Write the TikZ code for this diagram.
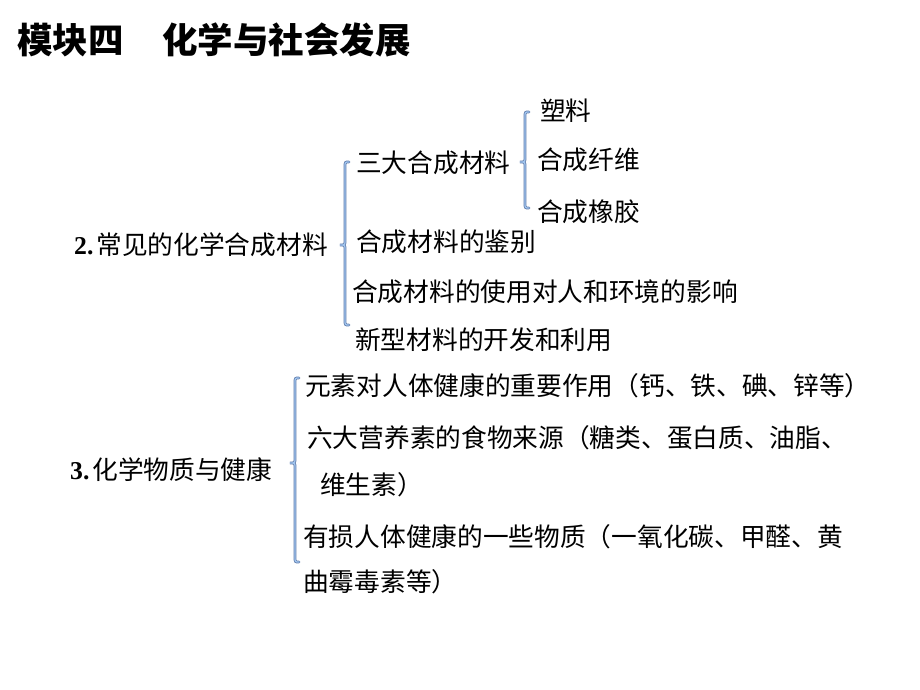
\documentclass[tikz,border=0pt]{standalone}
\usepackage{fontspec}
\setmainfont{Liberation Serif}
\newfontfamily\cjk{Noto Sans CJK SC}
\definecolor{braceout}{RGB}{96,124,170}
\definecolor{bracein}{RGB}{160,196,238}
\newcommand{\mybrace}[4]{%
  \foreach \w/\c in {2.8pt/braceout,1.3pt/bracein}{
  \draw[line width=\w,\c,line cap=round]
    (#1+4,#2) .. controls (#1,#2) .. (#1,#2+5) -- (#1,#3-5)
    .. controls (#1,#3) .. (#1-5,#3) .. controls (#1,#3) .. (#1,#3+5)
    -- (#1,#4-5) .. controls (#1,#4) .. (#1+4,#4);}
}
\begin{document}
\begin{tikzpicture}[x=1pt,y=-1pt,
  every node/.style={inner sep=0pt,anchor=west},
  body/.style={font=\fontsize{25.7}{26}\cjk},
  num/.style={font=\fontsize{25.7}{26}\selectfont},
  ttl/.style={font=\fontsize{35.5}{36}\cjk\bfseries}]
\useasboundingbox[fill=white] (0,0) rectangle (920,690);
% title
\node[ttl] (t1) at (17,40) {模块四};
\node[ttl] (t2) at (162,40) {化学与社会发展};
% section 2
\node[num] (s2) at (74,245) {\textbf{2.}\hspace{3pt}{\cjk 常见的化学合成材料}};
\mybrace{345}{162}{245}{325}
\node[body] (a1) at (356,163) {三大合成材料};
\mybrace{525}{112}{162}{208}
\node[body] (b1) at (540,111) {塑料};
\node[body] (b2) at (537,160) {合成纤维};
\node[body] (b3) at (537,212) {合成橡胶};
\node[body] (a2) at (356,242) {合成材料的鉴别};
\node[body] (a3) at (352,292) {合成材料的使用对人和环境的影响};
\node[body] (a4) at (355,340) {新型材料的开发和利用};
% section 3
\node[num] (s3) at (70,470) {\textbf{3.}\hspace{3pt}{\cjk 化学物质与健康}};
\mybrace{295}{378}{463}{562}
\node[body] (c1) at (305,386) {元素对人体健康的重要作用（钙、铁、碘、锌等）};
\node[body] (c2) at (307,438) {六大营养素的食物来源（糖类、蛋白质、油脂、};
\node[body] (c3) at (320,485) {维生素）};
\node[body] (c4) at (303,537) {有损人体健康的一些物质（一氧化碳、甲醛、黄};
\node[body] (c5) at (303,582) {曲霉毒素等）};
\end{tikzpicture}
\end{document}
